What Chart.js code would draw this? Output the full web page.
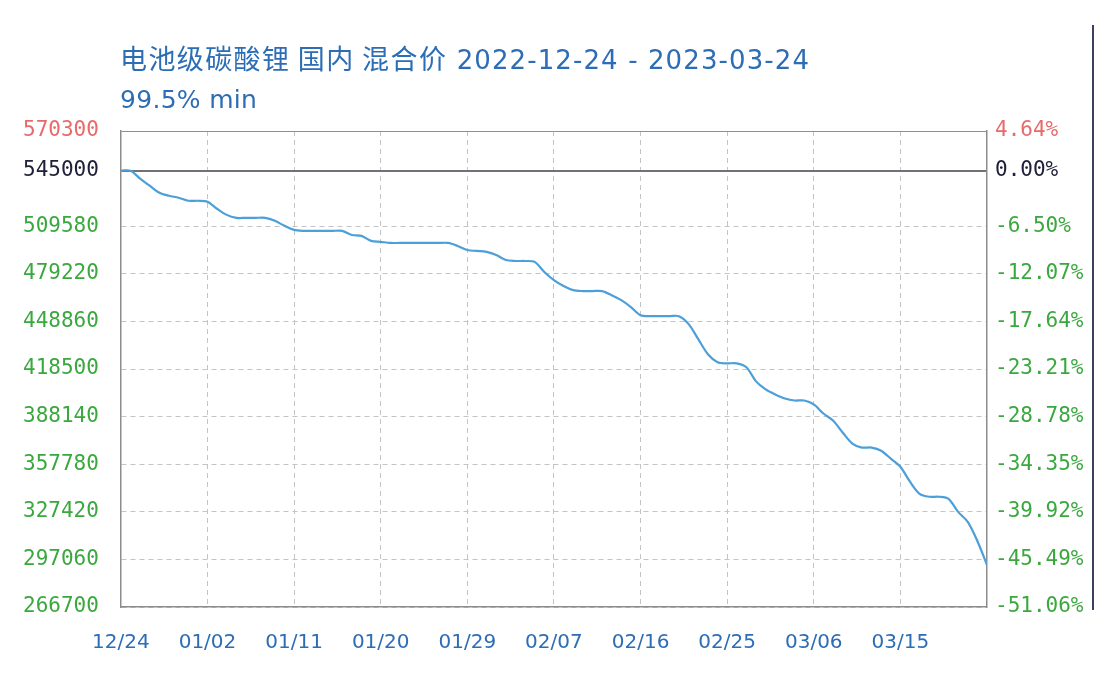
<!DOCTYPE html>
<html>
<head>
<meta charset="utf-8">
<script src="https://cdn.jsdelivr.net/npm/chart.js@4"></script>
<style>
  html, body { margin: 0; padding: 0; background: #fff; }
  #wrap { position: relative; width: 1110px; height: 682px; }
  #edge { position: absolute; left: 1092px; top: 25px; height: 585px; border-left: 2px solid #3c4060; }
  .ttl { position: absolute; left: 120px; color: #2c6db5; white-space: nowrap; line-height: 1; }
  .ttl .cjk { font-family: "Noto Sans CJK SC", sans-serif; font-size: 27px; letter-spacing: 1.4px; }
  .ttl .lat { font-family: "DejaVu Sans", sans-serif; font-size: 26px; letter-spacing: 1.1px; }
  #t1 { top: 44px; }
  #t2 { top: 87px; }
  #t2 .lat { font-size: 25px; letter-spacing: 0.3px; }
</style>
</head>
<body>
<div id="wrap">
  <canvas id="priceChart" width="1110" height="682"></canvas>
  <div id="t1" class="ttl"><span class="cjk">电池级碳酸锂 国内 混合价</span><span class="lat"> 2022-12-24 - 2023-03-24</span></div>
  <div id="t2" class="ttl"><span class="lat">99.5% min</span></div>
  <div id="edge"></div>
</div>
<script>
// 电池级碳酸锂 daily price, 2022-12-24 .. 2023-03-24 (one value per day)
const prices = [
  545000, 545000, 539900, 535400, 530900, 529000, 527700, 525800, 525800, 525200,
  520700, 516800, 514900, 514900, 514900, 514900, 513000, 509800, 507200, 506600,
  506600, 506600, 506600, 506600, 504000, 503400, 500200, 499600, 498900, 498900,
  498900, 498900, 498900, 498900, 498900, 497000, 494400, 493800, 493200, 491200,
  488000, 487400, 487400, 486800, 480400, 475200, 471400, 468800, 468200, 468200,
  468200, 465600, 462400, 458000, 452800, 452200, 452200, 452200, 452200, 447100,
  437500, 427900, 422800, 422100, 422100, 419600, 410600, 405500, 402300, 399700,
  398400, 398400, 395900, 390100, 385600, 378000, 370900, 368400, 368400, 366400,
  361300, 356200, 346600, 338900, 337000, 337000, 335700, 327400, 321000, 308800,
  293500
];

// x tick labels, one every 9 days
const dateLabels = ['12/24', '01/02', '01/11', '01/20', '01/29', '02/07', '02/16', '02/25', '03/06', '03/15'];

// y ticks (left price axis) and the matching right-hand percent labels
const priceTicks = [266700, 297060, 327420, 357780, 388140, 418500, 448860, 479220, 509580, 545000, 570300];
const pctLabels = ['-51.06%', '-45.49%', '-39.92%', '-34.35%', '-28.78%', '-23.21%', '-17.64%', '-12.07%', '-6.50%', '0.00%', '4.64%'];

const basePrice = 545000;
const topPrice = 570300;

function tickColor(ctx) {
    const v = ctx.tick ? ctx.tick.value : null;
    if (v === topPrice) return '#e86a6a';
    if (v === basePrice) return '#20203a';
    return '#3aa83e';
}

function gridColor(ctx) {
    const v = ctx.tick ? ctx.tick.value : null;
    if (v === basePrice) return '#707078';
    if (v === topPrice) return '#909090';
    return '#c4c4c4';
}

function gridDash(ctx) {
    const v = ctx.tick ? ctx.tick.value : null;
    if (v === basePrice || v === topPrice) return [];
    return [5, 4];
}

const ctx = document.getElementById('priceChart').getContext('2d');

new Chart(ctx, {
    type: 'line',
    data: {
        datasets: [{
            data: prices.map((p, i) => ({ x: i, y: p })),
            borderColor: '#4c9fd8',
            borderWidth: 2.2,
            pointRadius: 0,
            tension: 0.3,
            fill: false
        }]
    },
    options: {
        responsive: false,
        animation: false,
        // note: chart.js counts tick padding twice when sizing an axis
        layout: { padding: { left: 1, right: 18.5, top: 131, bottom: 3 } },
        plugins: {
            legend: { display: false },
            tooltip: { enabled: false },
            title: { display: false }
        },
        scales: {
            x: {
                type: 'linear',
                min: 0,
                max: 90,
                afterBuildTicks: (axis) => {
                    axis.ticks = [0, 9, 18, 27, 36, 45, 54, 63, 72, 81, 90].map(v => ({ value: v }));
                },
                ticks: {
                    autoSkip: false,
                    maxRotation: 0,
                    padding: 24,
                    color: '#2c6db5',
                    font: { family: '"DejaVu Sans", sans-serif', size: 20 },
                    callback: (value, index) => dateLabels[index] || ''
                },
                grid: { color: '#c4c4c4', drawTicks: false },
                border: { display: true, color: '#8c8c8c', width: 1.5, dash: (c) => (c.tick && (c.tick.value === 0 || c.tick.value === 90)) ? [] : [5, 4] }
            },
            y: {
                position: 'left',
                min: 266700,
                max: 570300,
                afterBuildTicks: (axis) => {
                    axis.ticks = priceTicks.map(v => ({ value: v }));
                },
                ticks: {
                    padding: 22,
                    color: tickColor,
                    font: { family: '"DejaVu Sans Mono", monospace', size: 21 },
                    callback: (value) => String(value)
                },
                grid: { color: gridColor, lineWidth: (c) => (c.tick && c.tick.value === basePrice) ? 2 : 1, drawTicks: false },
                border: { display: true, color: '#8c8c8c', width: 1.5, dash: gridDash }
            },
            y1: {
                position: 'right',
                min: 266700,
                max: 570300,
                afterBuildTicks: (axis) => {
                    axis.ticks = priceTicks.map(v => ({ value: v }));
                },
                ticks: {
                    padding: 8,
                    color: tickColor,
                    font: { family: '"DejaVu Sans Mono", monospace', size: 21 },
                    callback: (value, index) => pctLabels[index]
                },
                grid: { drawOnChartArea: false, drawTicks: false },
                border: { display: true, color: '#8c8c8c', width: 1.5 }
            }
        }
    }
});
</script>
</body>
</html>
